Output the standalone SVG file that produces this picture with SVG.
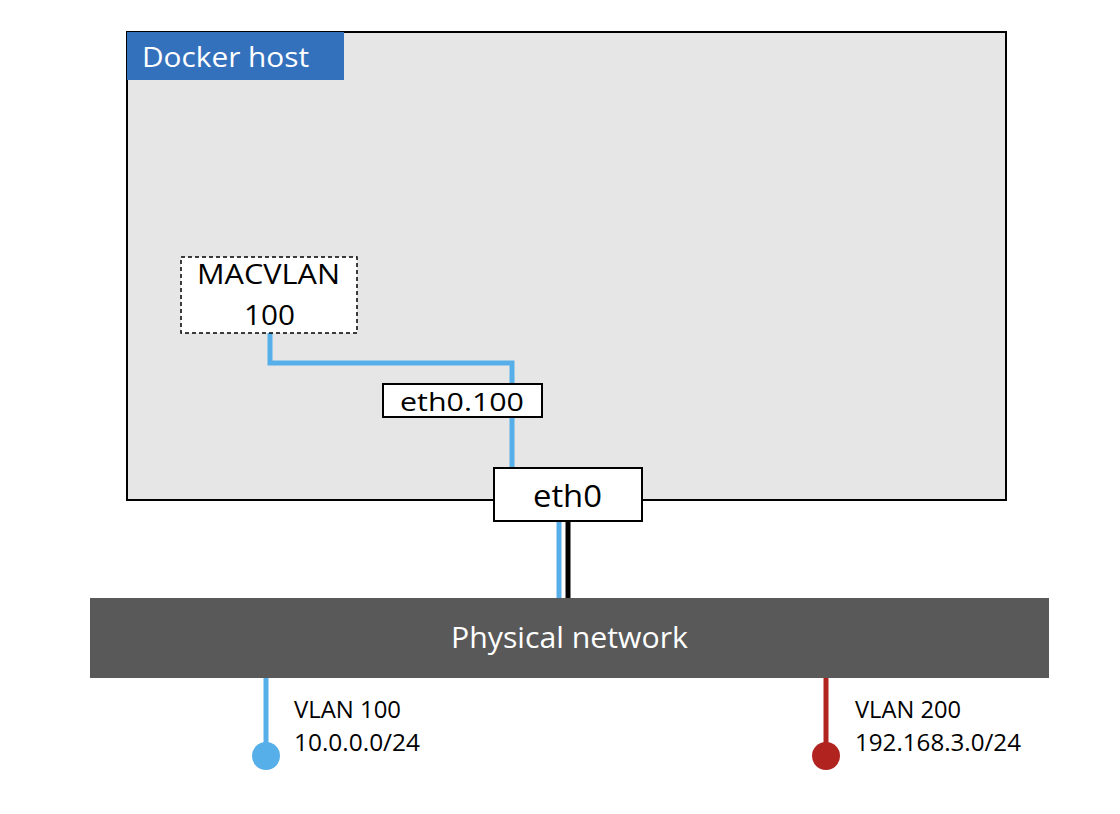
<svg xmlns="http://www.w3.org/2000/svg" width="1120" height="814" viewBox="0 0 1120 814">
  <style>
    text { font-family: "Open Sans", "Liberation Sans", sans-serif; }
    .box { fill: #ffffff; stroke: #000000; stroke-width: 2; }
    .blue { stroke: #56AFE8; stroke-width: 5; fill: none; }
    .red { stroke: #B0231F; stroke-width: 5; fill: none; }
    .dark { fill: #000000; }
    .white { fill: #ffffff; }
  </style>
  <rect width="1120" height="814" fill="#ffffff"/>

  <!-- Docker host container -->
  <g id="docker-host">
    <rect x="127" y="32" width="879" height="468" fill="#E6E6E6" stroke="#000000" stroke-width="2"/>
    <rect x="127" y="32" width="217" height="48" fill="#3471BD"/>
    <text x="142" y="67" font-size="28" class="white" textLength="167" lengthAdjust="spacingAndGlyphs">Docker host</text>
  </g>

  <!-- Connectors -->
  <g id="connectors">
    <polyline class="blue" points="270,333 270,363 512,363 512,384"/>
    <line class="blue" x1="512" y1="417" x2="512" y2="468"/>
    <line class="blue" x1="559" y1="521" x2="559" y2="598"/>
    <line x1="568" y1="521" x2="568" y2="598" stroke="#000000" stroke-width="5"/>
    <line class="blue" x1="266" y1="678" x2="266" y2="748"/>
    <line class="red" x1="826" y1="678" x2="826" y2="748"/>
  </g>

  <!-- MACVLAN 100 network -->
  <g id="macvlan">
    <rect x="181" y="257" width="176" height="76" fill="#ffffff" stroke="#000000" stroke-width="1.5" stroke-dasharray="4,3"/>
    <text x="197" y="284" font-size="27" class="dark" textLength="143" lengthAdjust="spacingAndGlyphs">MACVLAN</text>
    <text x="244" y="325" font-size="27" class="dark" textLength="51" lengthAdjust="spacingAndGlyphs">100</text>
  </g>

  <!-- VLAN sub-interface -->
  <g id="eth0-100">
    <rect x="383" y="384" width="159" height="33" class="box"/>
    <text x="400" y="411" font-size="25" class="dark" textLength="124" lengthAdjust="spacingAndGlyphs">eth0.100</text>
  </g>

  <!-- Host physical interface -->
  <g id="eth0">
    <rect x="494" y="468" width="148" height="53" class="box"/>
    <text x="533" y="507" font-size="31" class="dark" textLength="69" lengthAdjust="spacingAndGlyphs">eth0</text>
  </g>

  <!-- Physical network -->
  <g id="physical-network">
    <rect x="90" y="598" width="959" height="80" fill="#595959"/>
    <text x="451" y="648" font-size="29" class="white" textLength="237" lengthAdjust="spacingAndGlyphs">Physical network</text>
  </g>

  <!-- VLAN 100 endpoint -->
  <g id="vlan100">
    <circle cx="266" cy="756" r="14" fill="#56AFE8"/>
    <text x="294" y="718" font-size="23" class="dark" textLength="107" lengthAdjust="spacingAndGlyphs">VLAN 100</text>
    <text x="294" y="751" font-size="23" class="dark" textLength="126" lengthAdjust="spacingAndGlyphs">10.0.0.0/24</text>
  </g>

  <!-- VLAN 200 endpoint -->
  <g id="vlan200">
    <circle cx="826" cy="756" r="14" fill="#B0231F"/>
    <text x="855" y="718" font-size="23" class="dark" textLength="106" lengthAdjust="spacingAndGlyphs">VLAN 200</text>
    <text x="855" y="751" font-size="23" class="dark" textLength="166" lengthAdjust="spacingAndGlyphs">192.168.3.0/24</text>
  </g>
</svg>
